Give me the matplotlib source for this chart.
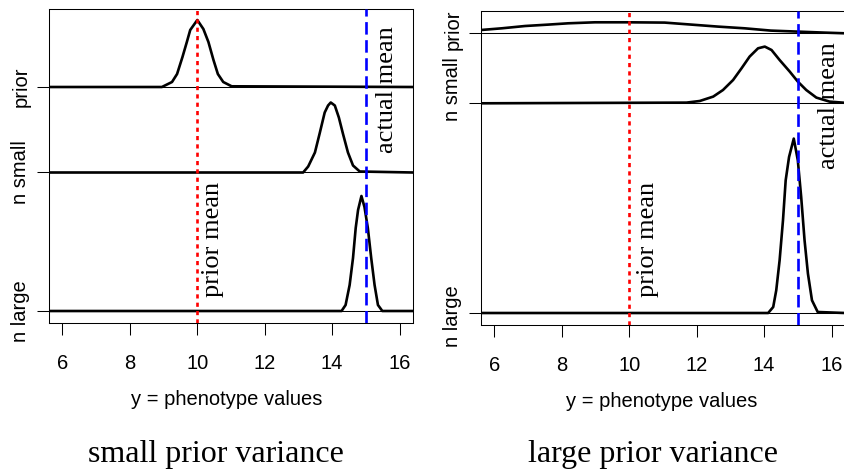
import matplotlib
matplotlib.use('Agg')
import matplotlib.pyplot as plt

plt.rcParams['lines.scale_dashes'] = False

# Stacked posterior curves: x = phenotype value, h = curve height above its baseline
# (height in the plot's own y units).
ROW_LABELS = ['prior', 'n small', 'n large']
PRIOR_MEAN = 10
ACTUAL_MEAN = 15
XTICKS = [6, 8, 10, 12, 14, 16]

# small prior variance panel
sp_prior_x = [5.6, 8.95, 9.25, 9.4, 9.56, 9.69, 9.79, 10.0, 10.18, 10.33, 10.48, 10.61, 10.77, 11.02, 16.4]
sp_prior_h = [0, 0, 5, 13, 30, 45, 57, 67, 58, 45, 27, 13, 5, 0.7, 0]
sp_small_x = [5.6, 13.14, 13.29, 13.49, 13.63, 13.78, 13.88, 13.96, 14.08, 14.2, 14.32, 14.47, 14.62, 14.82, 16.4]
sp_small_h = [0, 0, 6, 20, 39, 60, 67, 70, 67, 55, 39, 20, 7, 1, 0]
sp_large_x = [5.6, 14.28, 14.40, 14.52, 14.62, 14.70, 14.77, 14.87, 14.96, 15.06, 15.16, 15.26, 15.36, 15.49, 16.4]
sp_large_h = [0, 0, 6, 26, 53, 83, 101, 115, 104, 83, 53, 26, 6, 0, 0]
sp_offsets = [224, 138.5, 0]
sp_label_pos = [224, 138.5, 0]

# large prior variance panel
lp_prior_x = [5.6, 6.22, 6.91, 7.60, 8.19, 8.98, 9.96, 11.05, 11.84, 12.63, 13.42, 14.20, 14.99, 15.78, 16.4]
lp_prior_h = [3.3, 5, 7.3, 8.7, 10, 11, 11, 10.7, 8.7, 6.7, 5, 2.7, 1.7, 0.7, 0]
lp_small_x = [5.6, 11.70, 12.09, 12.49, 12.78, 13.08, 13.33, 13.57, 13.82, 14.02, 14.22, 14.46, 14.76, 15.0,
              15.25, 15.55, 15.94, 16.4]
lp_small_h = [0, 0.7, 2.3, 6.7, 13.3, 23.3, 35, 46.7, 55, 56.7, 53.3, 43.3, 31.7, 21.7, 13.3, 5.7, 1.7, 0.5]
lp_large_x = [5.6, 14.12, 14.27, 14.36, 14.46, 14.56, 14.64, 14.74, 14.88, 15.0, 15.10, 15.20, 15.30, 15.42,
              15.59, 16.4]
lp_large_h = [0, 0, 6, 22.7, 52.7, 92.7, 132.7, 156, 174.4, 152.7, 116, 72.7, 39.4, 12.7, 1, 0]
lp_offsets = [279.7, 209.7, 0]
lp_label_pos = [283, 224, -3]

SANS = 'Liberation Sans'
SERIF = 'Liberation Serif'


def draw_panel(ax, curves, offsets, label_pos, prior_txt, actual_txt, xlab_x, title, title_x):
    for (xs, hs), off in zip(curves, offsets):
        ax.axhline(off, color='black', lw=0.75, zorder=1)
        ax.plot(xs, [off + h for h in hs], color='black', lw=1.9, zorder=2)

    ax.axvline(PRIOR_MEAN, color='#ff0000', lw=1.9, ls=(0, (3, 3)), zorder=3)
    ax.axvline(ACTUAL_MEAN, color='#0000ff', lw=1.9, ls=(0, (9, 4)), zorder=3)

    ax.text(prior_txt[0], prior_txt[1], 'prior mean', rotation=90, ha='center', va='center',
            family=SERIF, fontsize=19)
    ax.text(actual_txt[0], actual_txt[1], 'actual mean', rotation=90, ha='center', va='center',
            family=SERIF, fontsize=19)

    ax.set_xlim(5.6, 16.4)
    ax.set_ylim(-12, 302)
    ax.set_xticks(XTICKS)
    ax.set_xticklabels([str(t) for t in XTICKS])

    # ticks sit on the baselines, labels may be nudged off them
    ax.yaxis.remove_overlapping_locs = False
    ax.set_yticks(offsets)
    ax.set_yticklabels([])
    ax.set_yticks(label_pos, minor=True)
    ax.set_yticklabels(ROW_LABELS, minor=True)

    ax.tick_params(axis='both', which='major', direction='out', length=8.6, width=0.75,
                   labelsize=14.5, labelfontfamily=SANS)
    ax.tick_params(axis='x', pad=14)
    ax.tick_params(axis='y', which='minor', length=0, pad=13.5, labelsize=14.5,
                   labelfontfamily=SANS, labelrotation=90)
    for lab in ax.get_yticklabels(minor=True):
        lab.set_va('center')
    for s in ax.spines.values():
        s.set_linewidth(0.75)

    ax.text(xlab_x, -0.245, 'y = phenotype values', transform=ax.transAxes, ha='center', va='center',
            family=SANS, fontsize=14.5)
    ax.figure.text(title_x, 7 / 469, title, ha='center', va='baseline', family=SERIF, fontsize=23)


fig = plt.figure(figsize=(8.44, 4.69), dpi=100)
ax1 = fig.add_axes([49 / 844, 1 - 323 / 469, 364 / 844, 314 / 469])
ax2 = fig.add_axes([481 / 844, 1 - 325 / 469, 364 / 844, 314 / 469])

draw_panel(ax1,
           [(sp_prior_x, sp_prior_h), (sp_small_x, sp_small_h), (sp_large_x, sp_large_h)],
           sp_offsets, sp_label_pos, (10.47, 71.5), (15.63, 221), 0.488,
           'small prior variance', 216 / 844)
draw_panel(ax2,
           [(lp_prior_x, lp_prior_h), (lp_small_x, lp_small_h), (lp_large_x, lp_large_h)],
           lp_offsets, lp_label_pos, (10.56, 73.5), (15.93, 207), 0.497,
           'large prior variance', 653 / 844)

fig.savefig('out.png', dpi=100)
